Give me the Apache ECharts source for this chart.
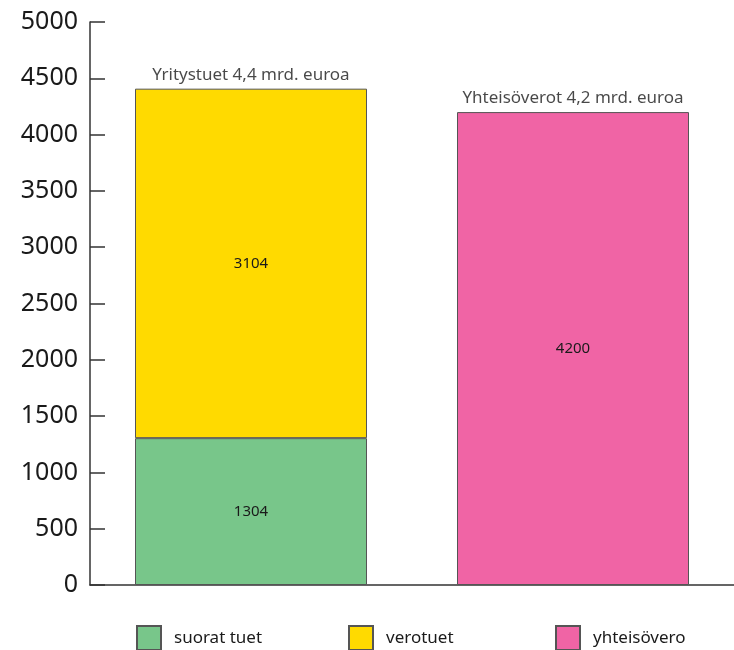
<!DOCTYPE html>
<html>
<head>
<meta charset="utf-8">
<script src="https://cdn.jsdelivr.net/npm/echarts@6/dist/echarts.min.js"></script>
<style>
  html, body { margin: 0; padding: 0; background: #fff; }
  #chart { width: 734px; height: 650px; }
</style>
</head>
<body>
<div id="chart"></div>
<script>
const categories = ['Yritystuet', 'Yhteisöverot']
const suoratTuet = [1304, '-']
const verotuet = [3104, '-']
const yhteisovero = ['-', 4200]
const totals = [4408, 4200]
const topLabels = ['Yritystuet 4,4 mrd. euroa', 'Yhteisöverot 4,2 mrd. euroa']
const seriesNames = ['suorat tuet', 'verotuet', 'yhteisövero']

const font = 'Noto Sans'
const chart = echarts.init(document.getElementById('chart'))

const barStyle = (color) => ({
  color: color,
  borderColor: '#555',
  borderWidth: 1
})

const innerLabel = {
  show: true,
  position: 'inside',
  color: '#1a1a1a',
  fontSize: 15,
  fontFamily: font
}

const legendAt = (name, left) => ({
  data: [name],
  left: left,
  top: 625,
  padding: 0,
  itemWidth: 24,
  itemHeight: 24,
  icon: 'rect',
  textStyle: { fontSize: 17, color: '#1a1a1a', fontFamily: font, padding: [0, 0, 0, 8] }
})

const option = {
  animation: false,
  textStyle: { fontFamily: font },
  grid: { left: 90, right: 0, top: 22, bottom: 65 },
  legend: [
    legendAt(seriesNames[0], 136),
    legendAt(seriesNames[1], 348),
    legendAt(seriesNames[2], 555)
  ],
  xAxis: {
    type: 'category',
    data: categories,
    axisLine: { lineStyle: { color: '#333', width: 1.5 } },
    axisTick: { inside: true, length: 12, lineStyle: { color: '#333', width: 1.5 } },
    axisLabel: { show: false }
  },
  yAxis: {
    type: 'value',
    min: 0,
    max: 5000,
    interval: 500,
    splitLine: { show: false },
    axisLine: { show: true, lineStyle: { color: '#333', width: 1.5 } },
    axisTick: { show: true, inside: true, length: 15, lineStyle: { color: '#333', width: 1.5 } },
    axisLabel: {
      fontSize: 25,
      color: '#1a1a1a',
      margin: 12,
      fontFamily: font,
      formatter: (v) => String(v)
    }
  },
  series: [
    {
      name: seriesNames[0],
      type: 'bar',
      stack: 'total',
      barWidth: 232,
      data: suoratTuet,
      itemStyle: barStyle('#78c68a'),
      label: innerLabel
    },
    {
      name: seriesNames[1],
      type: 'bar',
      stack: 'total',
      barWidth: 232,
      data: verotuet,
      itemStyle: barStyle('#ffda00'),
      label: innerLabel
    },
    {
      name: seriesNames[2],
      type: 'bar',
      stack: 'total',
      barWidth: 232,
      data: yhteisovero,
      itemStyle: barStyle('#f064a5'),
      label: innerLabel
    },
    {
      // bar titles above each column
      type: 'scatter',
      symbolSize: 0,
      silent: true,
      data: totals.map((v, i) => [i, v]),
      label: {
        show: true,
        position: 'top',
        distance: 5,
        color: '#1a1a1a',
        fontSize: 17,
        fontFamily: font,
        formatter: (p) => topLabels[p.dataIndex]
      }
    }
  ]
}

chart.setOption(option)
</script>
</body>
</html>
